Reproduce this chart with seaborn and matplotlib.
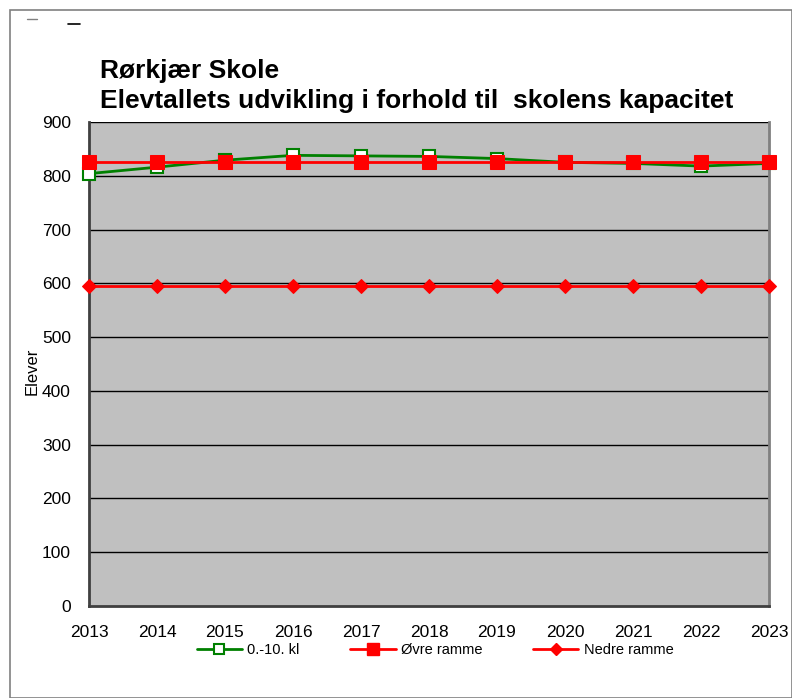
import numpy as np
import pandas as pd
import matplotlib
matplotlib.use('Agg')
import matplotlib.pyplot as plt
import seaborn as sns
from matplotlib.lines import Line2D

years = [2013, 2014, 2015, 2016, 2017, 2018, 2019, 2020, 2021, 2022, 2023]
elever = [804, 816, 829, 838, 837, 836, 832, 825, 823, 818, 823]
ovre = [825] * 11
nedre = [595] * 11
y_ticks = [0, 100, 200, 300, 400, 500, 600, 700, 800, 900]

sns.set_style('white')
plt.rcParams['font.family'] = ['Liberation Sans', 'DejaVu Sans']
plt.rcParams['text.color'] = 'black'
plt.rcParams['xtick.labelcolor'] = 'black'
plt.rcParams['ytick.labelcolor'] = 'black'

fig = plt.figure(figsize=(7.92, 6.98), dpi=100)
ax = fig.add_axes([89 / 792, 1 - 606 / 698, 680 / 792, 484 / 698])
ax.set_facecolor('#C0C0C0')

df = pd.DataFrame({'year': years, 'elever': elever, 'ovre': ovre, 'nedre': nedre})

sns.lineplot(data=df, x='year', y='elever', ax=ax, color='#008000', lw=2,
             marker='s', markersize=8, markerfacecolor='white',
             markeredgecolor='#008000', markeredgewidth=1.5, zorder=3, clip_on=False)
sns.lineplot(data=df, x='year', y='ovre', ax=ax, color='#FF0000', lw=2,
             marker='s', markersize=10.5, markerfacecolor='#FF0000',
             markeredgecolor='#FF0000', zorder=4, clip_on=False)
sns.lineplot(data=df, x='year', y='nedre', ax=ax, color='#FF0000', lw=2,
             marker='D', markersize=7, markerfacecolor='#FF0000',
             markeredgecolor='#FF0000', zorder=4, clip_on=False)

ax.set_xlim(years[0], years[-1])
ax.set_ylim(0, 900)
ax.set_yticks(y_ticks)
ax.set_xticks(years)
ax.set_xticklabels([str(y) for y in years], fontsize=12.5)
ax.set_yticklabels([str(v) for v in y_ticks], fontsize=12.5)
for v in y_ticks[1:]:
    ax.axhline(v, color='black', lw=1, zorder=1)
ax.tick_params(axis='y', direction='out', length=5, width=1.2, color='black', pad=8)
ax.tick_params(axis='x', direction='in', length=5, width=1.2, color='black', pad=14)
ax.set_xlabel('')
ax.set_ylabel('')
for s in ['left', 'bottom']:
    ax.spines[s].set_color('#404040')
    ax.spines[s].set_linewidth(2)
ax.spines['right'].set_color('#808080')
ax.spines['right'].set_linewidth(2)
ax.spines['top'].set_visible(False)

fig.text(32 / 792, 1 - 371 / 698, 'Elever', rotation=90, fontsize=12,
         ha='center', va='center')

fig.text(100 / 792, 1 - 71 / 698, 'Rørkjær Skole', fontsize=19,
         fontweight='bold', ha='left', va='center')
fig.text(100 / 792, 1 - 101 / 698, 'Elevtallets udvikling i forhold til  skolens kapacitet',
         fontsize=19, fontweight='bold', ha='left', va='center')

# outer frame
fig.add_artist(plt.Rectangle((10 / 792, 0), 1 - 10 / 792, 1 - 10 / 698,
                             transform=fig.transFigure, fill=False,
                             edgecolor='#808080', lw=1.2))
fig.add_artist(Line2D([27 / 792, 37 / 792], [1 - 19 / 698] * 2, color='#808080', lw=1))
fig.add_artist(Line2D([68 / 792, 80 / 792], [1 - 24 / 698] * 2, color='black', lw=1.2))

handles = [
    Line2D([], [], color='#008000', lw=2, marker='s', markersize=7,
           markerfacecolor='white', markeredgecolor='#008000', markeredgewidth=1.5),
    Line2D([], [], color='#FF0000', lw=2, marker='s', markersize=9,
           markerfacecolor='#FF0000', markeredgecolor='#FF0000'),
    Line2D([], [], color='#FF0000', lw=2, marker='D', markersize=6,
           markerfacecolor='#FF0000', markeredgecolor='#FF0000'),
]
fig.legend(handles, ['0.-10. kl', 'Øvre ramme', 'Nedre ramme'], loc='center',
           bbox_to_anchor=(435 / 792, 1 - 650 / 698), ncol=3, frameon=False,
           fontsize=10.5, handlelength=3.1, columnspacing=3.5, handletextpad=0.35)

fig.savefig('out.png', dpi=100)
